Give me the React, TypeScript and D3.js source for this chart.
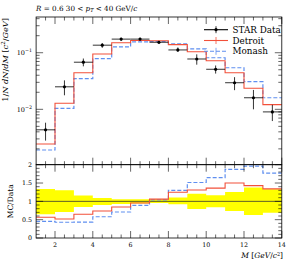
import React from 'react'
import * as d3 from 'd3'

// bin edges in M [GeV/c^2]
const binEdges = [1, 2, 3, 4, 5, 6, 7, 8, 9, 10, 11, 12, 13, 14]

// STAR data: value, upper and lower error edge
const starData = [0.00434, 0.025, 0.068, 0.136, 0.174, 0.174, 0.153, 0.112, 0.0775, 0.051, 0.0295, 0.016, 0.009]
const starHigh = [0.0058, 0.0325, 0.079, 0.148, 0.184, 0.184, 0.162, 0.124, 0.0937, 0.0595, 0.037, 0.022, 0.012]
const starLow = [0.0028, 0.0177, 0.0575, 0.122, 0.161, 0.164, 0.146, 0.103, 0.0615, 0.0428, 0.0218, 0.01, 0.0062]

// generator predictions
const detroit = [0.00244, 0.0128, 0.0444, 0.0948, 0.15, 0.164, 0.163, 0.139, 0.104, 0.0723, 0.0444, 0.0235, 0.0121]
const monash = [0.00191, 0.0104, 0.0348, 0.0784, 0.127, 0.155, 0.158, 0.143, 0.117, 0.0816, 0.0543, 0.0308, 0.016]

// MC / Data ratios
const detroitRatio = [0.565, 0.52, 0.65, 0.735, 0.845, 0.955, 1.06, 1.25, 1.31, 1.36, 1.5, 1.43, 1.34]
const monashRatio = [0.455, 0.43, 0.435, 0.58, 0.71, 0.89, 1.04, 1.3, 1.515, 1.645, 1.875, 1.96, 1.77]

const xTicks = [2, 4, 6, 8, 10, 12, 14]
const ratioTicks = [0, 0.5, 1, 1.5, 2]

const RED = '#f2503a'
const BLUE = '#5f8ff0'
const FONT = 'DejaVu Serif'

export default function App() {
  const W = 291
  const H = 263
  const left = 36.1
  const right = 281.8
  const mainTop = 17
  const mainBottom = 164.7
  const ratioBottom = 238

  const x = d3.scaleLinear().domain([1, 14]).range([left, right])
  const y = d3.scaleLog().domain([0.00105, 0.428]).range([mainBottom, mainTop])
  const yr = d3.scaleLinear().domain([0, 2]).range([ratioBottom, mainBottom])

  //step histogram from bin values
  const stepPath = (vals: number[], ys: any) => {
    const pts: [number, number][] = vals.map((v, i) => [binEdges[i], v])
    pts.push([binEdges[binEdges.length - 1], vals[vals.length - 1]])
    return d3
      .line<[number, number]>()
      .curve(d3.curveStepAfter)
      .x((d) => x(d[0]))
      .y((d) => ys(d[1]))(pts) as string
  }

  // data uncertainty band in the ratio panel
  const last = starData.length - 1
  const band = d3
    .area<number>()
    .curve(d3.curveStepAfter)
    .x((_, i) => x(binEdges[i]))
    .y0((_, i) => yr(starLow[Math.min(i, last)] / starData[Math.min(i, last)]))
    .y1((_, i) => yr(starHigh[Math.min(i, last)] / starData[Math.min(i, last)]))(binEdges) as string

  const xMinor = d3.range(1.5, 14, 0.5).filter((v) => !xTicks.includes(v))
  const yMinor: number[] = []
  ;[0.001, 0.01, 0.1].forEach((dec) => {
    d3.range(2, 10).forEach((k) => {
      const v = k * dec
      if (v > 0.00105 && v < 0.428) yMinor.push(v)
    })
  })
  const ratioMinor = d3.range(0.1, 2, 0.1).filter((v) => Math.abs(v * 2 - Math.round(v * 2)) > 1e-6)

  const majL = 7
  const minL = 3.5
  const tickStroke = { stroke: '#000', strokeWidth: 0.6 }

  const xTickMarks = (top: number, bottom: number) => (
    <g>
      {xTicks.map((t) => (
        <g key={'M' + t}>
          <line x1={x(t)} x2={x(t)} y1={top} y2={top + majL} {...tickStroke} />
          <line x1={x(t)} x2={x(t)} y1={bottom} y2={bottom - majL} {...tickStroke} />
        </g>
      ))}
      {xMinor.map((t) => (
        <g key={'m' + t}>
          <line x1={x(t)} x2={x(t)} y1={top} y2={top + minL} {...tickStroke} />
          <line x1={x(t)} x2={x(t)} y1={bottom} y2={bottom - minL} {...tickStroke} />
        </g>
      ))}
    </g>
  )

  const yTickMark = (yy: number, len: number, key: string) => (
    <g key={key}>
      <line x1={left} x2={left + len} y1={yy} y2={yy} {...tickStroke} />
      <line x1={right} x2={right - len} y1={yy} y2={yy} {...tickStroke} />
    </g>
  )

  const legendRows = [
    { label: 'STAR Data', color: '#000', dash: undefined as string | undefined, dot: true },
    { label: 'Detroit', color: RED, dash: undefined, dot: false },
    { label: 'Monash', color: BLUE, dash: '4,2', dot: false },
  ]

  return (
    <div style={{ position: 'fixed', left: 0, top: 0 }}>
      <svg width={W} height={H} style={{ display: 'block', background: '#fff' }}>
        <defs>
          <clipPath id="ratioClip">
            <rect x={left} y={mainBottom} width={right - left} height={ratioBottom - mainBottom} />
          </clipPath>
          <clipPath id="mainClip">
            <rect x={left} y={mainTop} width={right - left} height={mainBottom - mainTop} />
          </clipPath>
        </defs>

        {/* title */}
        <text x={left} y={10.5} fontFamily={FONT} fontSize={7.2}>
          <tspan fontStyle="italic">R</tspan> = 0.6 30 &lt; <tspan fontStyle="italic">p</tspan>
          <tspan fontStyle="italic" fontSize={5} dy={1.5}>T</tspan>
          <tspan dy={-1.5}> &lt; 40 GeV/</tspan>
          <tspan fontStyle="italic">c</tspan>
        </text>

        {/* main panel */}
        <g clipPath="url(#mainClip)">
          <path d={stepPath(monash, y)} fill="none" stroke={BLUE} strokeWidth={1.2} strokeDasharray="4,2" />
          <path d={stepPath(detroit, y)} fill="none" stroke={RED} strokeWidth={1.1} />
          {starData.map((v, i) => {
            const cx = x((binEdges[i] + binEdges[i + 1]) / 2)
            return (
              <g key={i}>
                <line x1={x(binEdges[i])} x2={x(binEdges[i + 1])} y1={y(v)} y2={y(v)} stroke="#000" strokeWidth={0.8} />
                <line x1={cx} x2={cx} y1={y(starHigh[i])} y2={y(starLow[i])} stroke="#000" strokeWidth={0.8} />
                <circle cx={cx} cy={y(v)} r={1.6} fill="#000" />
              </g>
            )
          })}
        </g>
        {xTickMarks(mainTop, mainBottom)}
        {[0.01, 0.1].map((t) => yTickMark(y(t), majL, 'Y' + t))}
        {yMinor.map((t) => yTickMark(y(t), minL, 'y' + t))}
        {[0.1, 0.01].map((t, i) => (
          <text key={t} x={left - 4} y={y(t) + 2.3} textAnchor="end" fontFamily={FONT} fontSize={6.5}>
            10
            <tspan fontSize={4.8} dy={-3}>
              {i === 0 ? '−1' : '−2'}
            </tspan>
          </text>
        ))}
        <rect x={left} y={mainTop} width={right - left} height={mainBottom - mainTop} fill="none" stroke="#000" strokeWidth={0.8} />

        {/* y label main */}
        <text transform={`translate(8,${mainTop + 1}) rotate(-90)`} textAnchor="end" fontFamily={FONT} fontSize={8.2}>
          1/<tspan fontStyle="italic">N dN</tspan>/<tspan fontStyle="italic">dM</tspan> [<tspan fontStyle="italic">c</tspan>
          <tspan fontSize={5.5} dy={-3}>2</tspan>
          <tspan dy={3}>/</tspan>
          <tspan fontStyle="italic">GeV</tspan>]
        </text>

        {/* legend */}
        {legendRows.map((r, i) => {
          const ly = 29.7 + i * 10.8
          return (
            <g key={r.label}>
              <line x1={204} x2={228} y1={ly} y2={ly} stroke={r.color} strokeWidth={1.1} strokeDasharray={r.dash} />
              <line x1={216} x2={216} y1={ly - 3.5} y2={ly + 3.5} stroke={r.color} strokeWidth={0.8} />
              {r.dot ? <circle cx={216} cy={ly} r={1.6} fill="#000" /> : null}
              <text x={232.5} y={ly + 3} fontFamily={FONT} fontSize={8.8}>
                {r.label}
              </text>
            </g>
          )
        })}

        {/* ratio panel */}
        <g clipPath="url(#ratioClip)">
          <path d={band} fill="#ffff00" stroke="none" />
          <line x1={left} x2={right} y1={yr(1)} y2={yr(1)} stroke="#333" strokeWidth={0.8} />
          <path d={stepPath(monashRatio, yr)} fill="none" stroke={BLUE} strokeWidth={1.2} strokeDasharray="4,2" />
          <path d={stepPath(detroitRatio, yr)} fill="none" stroke={RED} strokeWidth={1.1} />
        </g>
        {xTickMarks(mainBottom, ratioBottom)}
        {ratioTicks.map((t) => yTickMark(yr(t), majL, 'R' + t))}
        {ratioMinor.map((t) => yTickMark(yr(t), minL, 'r' + t))}
        {ratioTicks.map((t) => (
          <text key={t} x={left - 4} y={yr(t) + 2.2} textAnchor="end" fontFamily={FONT} fontSize={6.3}>
            {t}
          </text>
        ))}
        <rect x={left} y={mainBottom} width={right - left} height={ratioBottom - mainBottom} fill="none" stroke="#000" strokeWidth={0.8} />

        {xTicks.map((t) => (
          <text key={t} x={x(t)} y={ratioBottom + 8.5} textAnchor="middle" fontFamily={FONT} fontSize={6.3}>
            {t}
          </text>
        ))}

        <text transform={`translate(12.5,${yr(1)}) rotate(-90)`} textAnchor="middle" fontFamily={FONT} fontSize={7.5}>
          MC/Data
        </text>

        <text x={283} y={258} textAnchor="end" fontFamily={FONT} fontSize={7.5}>
          <tspan fontStyle="italic">M</tspan> [<tspan fontStyle="italic">GeV</tspan>/<tspan fontStyle="italic">c</tspan>
          <tspan fontSize={5} dy={-2.5}>2</tspan>
          <tspan dy={2.5}>]</tspan>
        </text>
      </svg>
    </div>
  )
}
